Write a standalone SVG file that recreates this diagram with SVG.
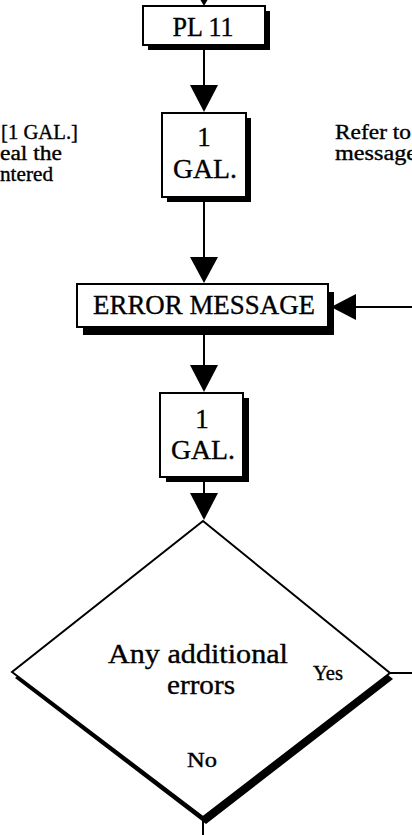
<svg xmlns="http://www.w3.org/2000/svg" width="412" height="835" viewBox="0 0 412 835">
<style>
.box{fill:#fff;stroke:#000;stroke-width:2}
.sh{fill:#000}
.t{font-family:"Liberation Serif","Times New Roman",serif;fill:#000;stroke:#000;stroke-width:0.35}
.lbl{font-size:27px;text-anchor:middle}
.q{font-size:27px;text-anchor:middle}
.note{font-size:20px}
.small{font-size:20px;text-anchor:middle}
.ln{stroke:#000;stroke-width:2;fill:none}
.ah{fill:#000}
</style>
<rect width="412" height="835" fill="#fff"/>
<g id="connectors">
  <polygon class="ah" points="200.5,0 207.5,0 204,6"/>
  <line class="ln" x1="204" y1="50" x2="204" y2="86"/>
  <polygon class="ah" points="190,85 218,85 204,112"/>
  <line class="ln" x1="204" y1="202" x2="204" y2="258"/>
  <polygon class="ah" points="190,257 218,257 204,283"/>
  <line class="ln" x1="204" y1="335" x2="204" y2="366"/>
  <polygon class="ah" points="190,365 218,365 204,392"/>
  <line class="ln" x1="204" y1="482" x2="204" y2="494"/>
  <polygon class="ah" points="190,493 218,493 204,520"/>
  <line class="ln" x1="203" y1="817" x2="203" y2="835"/>
  <line class="ln" x1="390" y1="673" x2="412" y2="673" stroke-width="1.5"/>
  <line class="ln" x1="354" y1="307" x2="412" y2="307"/>
  <polygon class="ah" points="356,294 356,320 331,307"/>
</g>
<g id="note-left">
  <text class="t note" x="1" y="139" textLength="77" lengthAdjust="spacingAndGlyphs">[1 GAL.]</text>
  <text class="t note" x="0" y="160" textLength="62" lengthAdjust="spacingAndGlyphs">eal the</text>
  <text class="t note" x="0" y="181" textLength="53" lengthAdjust="spacingAndGlyphs">ntered</text>
</g>
<g id="note-right">
  <text class="t note" x="335" y="139" textLength="76" lengthAdjust="spacingAndGlyphs">Refer to</text>
  <text class="t note" x="335" y="160" textLength="82" lengthAdjust="spacingAndGlyphs">message</text>
</g>
<g id="pl11">
  <rect class="sh" x="148" y="11" width="122" height="39"/>
  <rect class="box" x="143" y="6" width="122" height="39"/>
  <text class="t lbl" x="203" y="36" textLength="61" lengthAdjust="spacingAndGlyphs">PL 11</text>
</g>
<g id="gal1">
  <rect class="sh" x="167" y="118" width="84" height="84"/>
  <rect class="box" x="162" y="113" width="84" height="84"/>
  <text class="t lbl" x="204" y="146">1</text>
  <text class="t lbl" x="205" y="178" textLength="64" lengthAdjust="spacingAndGlyphs">GAL.</text>
</g>
<g id="error-message">
  <rect class="sh" x="83" y="292" width="251" height="43"/>
  <rect class="box" x="77" y="284" width="251" height="43"/>
  <text class="t lbl" x="204" y="314" textLength="222" lengthAdjust="spacingAndGlyphs">ERROR MESSAGE</text>
</g>
<g id="gal2">
  <rect class="sh" x="166" y="398" width="83" height="84"/>
  <rect class="box" x="160" y="393" width="83" height="84"/>
  <text class="t lbl" x="202" y="428">1</text>
  <text class="t lbl" x="203" y="459" textLength="64" lengthAdjust="spacingAndGlyphs">GAL.</text>
</g>
<g id="decision">
  <polygon class="sh" points="206,527 393,679 206,824 15,678"/>
  <polygon class="box" points="203,521 390,673 203,817 12,672"/>
  <text class="t q" x="198" y="663" textLength="180" lengthAdjust="spacingAndGlyphs">Any additional</text>
  <text class="t q" x="201" y="694" textLength="68" lengthAdjust="spacingAndGlyphs">errors</text>
  <text class="t small" x="328" y="680" textLength="30" lengthAdjust="spacingAndGlyphs">Yes</text>
  <text class="t small" x="202" y="767" textLength="30" lengthAdjust="spacingAndGlyphs">No</text>
</g>
</svg>
